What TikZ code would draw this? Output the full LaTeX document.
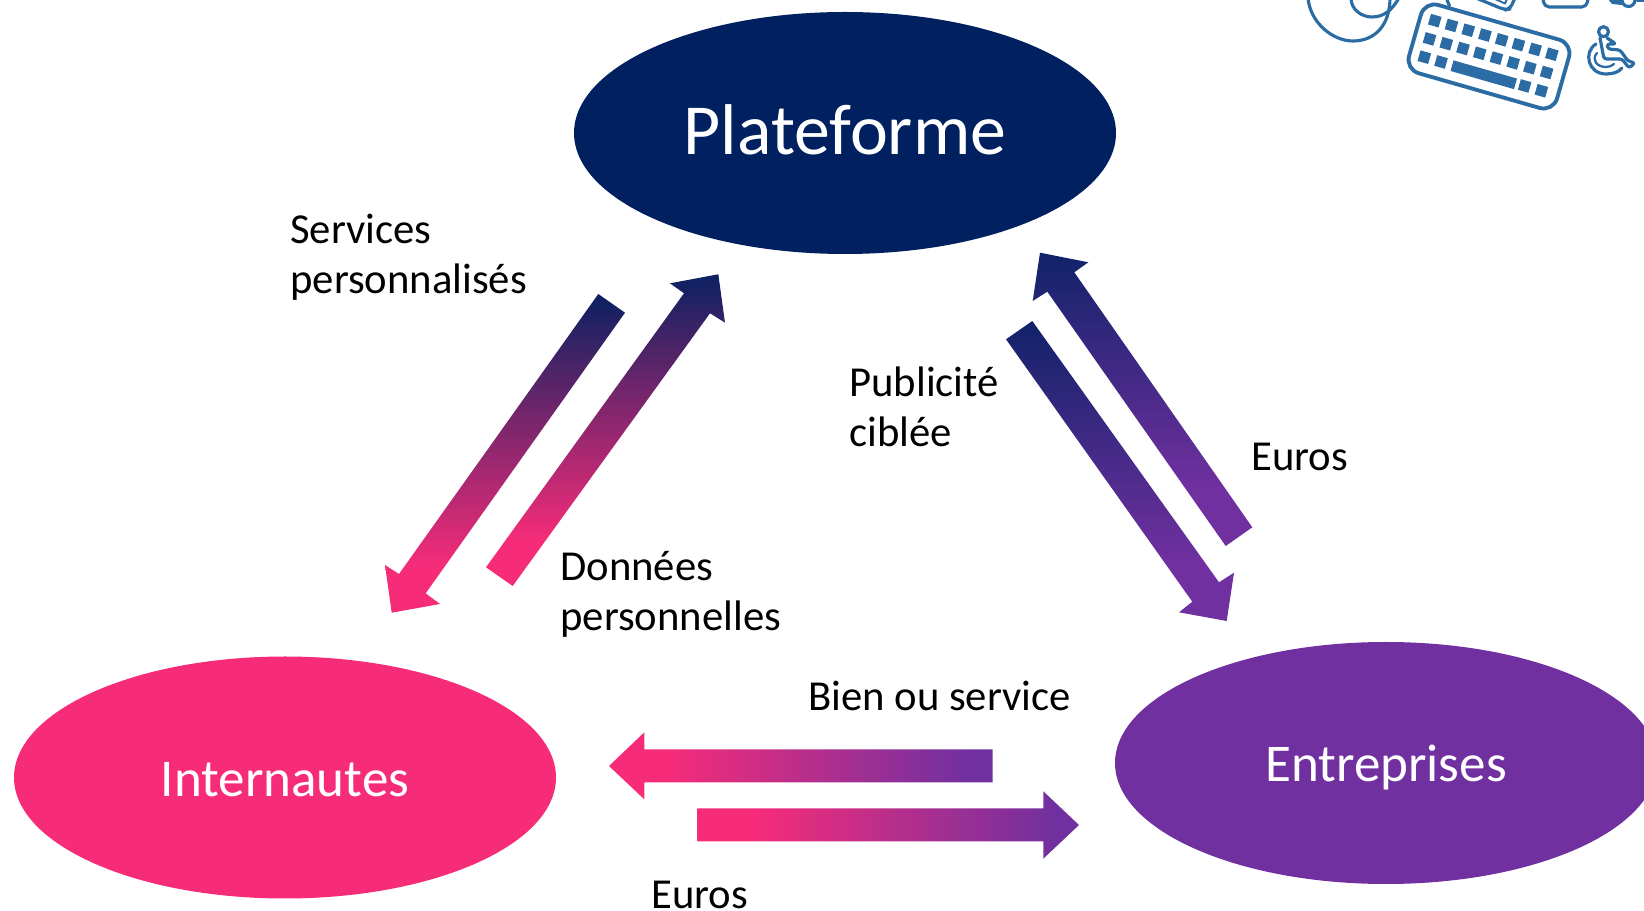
\documentclass[tikz,border=0pt]{standalone}
\usepackage{fontspec}
\setmainfont{Carlito}
\definecolor{navyc}{HTML}{002060}
\definecolor{pinkc}{HTML}{F72C79}
\definecolor{purplec}{HTML}{7030A0}
\definecolor{iconc}{HTML}{2A6CA3}
\pgfdeclareverticalshading{navypink}{100bp}{color(0bp)=(pinkc); color(32bp)=(pinkc); color(77bp)=(navyc); color(100bp)=(navyc)}
\pgfdeclareverticalshading{navypurple}{100bp}{color(0bp)=(purplec); color(35bp)=(purplec); color(82bp)=(navyc); color(100bp)=(navyc)}
\pgfdeclarehorizontalshading{pinkpurple}{100bp}{color(0bp)=(pinkc); color(32bp)=(pinkc); color(72bp)=(purplec); color(100bp)=(purplec)}
\usetikzlibrary{shapes.geometric}
\newcommand{\pxu}{*0.02cm}
\tikzset{
  actor/.style={ellipse, minimum width=542\pxu, minimum height=242\pxu, inner sep=0pt, text=white, text depth=0pt},
  lbl/.style={anchor=base west, align=left, font=\fontsize{24.3}{29}\selectfont, inner sep=0pt},
  icon/.style={draw=iconc, line width=1.8pt, line join=round, line cap=round},
  key/.style={fill=iconc}
}
\begin{document}
\begin{tikzpicture}[x=0.02cm,y=-0.02cm]
\useasboundingbox (0,0) rectangle (1644,911);
\clip (0,0) rectangle (1644,911);

% the three actors
\node [actor, fill=navyc, text height=24pt, font=\fontsize{40.9}{44}\selectfont] (plateforme) at (845,133) {Plateforme};
\node [actor, fill=pinkc, text height=21.7pt, font=\fontsize{30.2}{34}\selectfont] (internautes) at (285,777.5) {Internautes};
\node [actor, fill=purplec, text height=21pt, font=\fontsize{30.2}{34}\selectfont] (entreprises) at (1386,763) {Entreprises};

% arrows between plateforme and internautes
\shade [shading=navypink] (598.3,294) -- (625,312.7) -- (425.7,593.3) -- (440,604) -- (391.7,612.7) -- (385,565) -- (399,574) -- cycle;
\shade [shading=navypink] (486,567.3) -- (512.7,586) -- (710,313.3) -- (725,322.7) -- (718.3,274.3) -- (670,283.3) -- (684,293.3) -- cycle;

% arrows between plateforme and entreprises
\shade [shading=navypurple] (1252.3,527.3) -- (1225.7,546) -- (1047.3,291.7) -- (1032.7,301) -- (1040,252.7) -- (1088.3,262.3) -- (1074.3,272.3) -- cycle;
\shade [shading=navypurple] (1006,339.3) -- (1032.3,321) -- (1219,582.3) -- (1234,572.7) -- (1226.7,621) -- (1179,612.3) -- (1192.3,601.7) -- cycle;

% arrows between internautes and entreprises
\shade [shading=pinkpurple] (992.7,749.3) -- (644.3,749.3) -- (644.3,732.3) -- (609,766) -- (644.3,799.3) -- (644.3,782.3) -- (992.7,782.3) -- cycle;
\shade [shading=pinkpurple] (697.3,808.3) -- (1043.3,808.3) -- (1043.3,791.3) -- (1079,825) -- (1043.3,858.7) -- (1043.3,841.3) -- (697.3,841.3) -- cycle;

% labels
\node [lbl] (services) at (290,294) {Services\\personnalisés};
\node [lbl] (donnees) at (560,631) {Données\\personnelles};
\node [lbl] (publicite) at (849,447) {Publicité\\ciblée};
\node [lbl] (eurosa) at (1251,470.5) {Euros};
\node [lbl] (bien) at (808,711) {Bien ou service};
\node [lbl] (eurosb) at (651,908.5) {Euros};

% keyboard
\begin{scope}[shift={(1489,56.5)}, rotate=-16]
\draw [icon, line width=2.2pt, rounded corners=8] (-77,-35.5) rectangle (77,35.5);
\foreach \x in {0,...,7} \fill [key] (-62+\x*17.4-5.5,-25) rectangle +(11,11);
\foreach \x in {0,...,7} \fill [key] (-62+\x*17.4-5.5,-6) rectangle +(11,11);
\foreach \x in {0,1,6,7} \fill [key] (-62+\x*17.4-5.5,13) rectangle +(11,11);
\fill [key] (-33,13.5) rectangle (33,24.5);
\end{scope}
\draw [icon] (1447,0) -- (1449.5,6);

% cut-off icons along the top edge
\draw [icon] (1308,-2) .. controls (1310,22) and (1332,41) .. (1353,41) .. controls (1375,41) and (1390,25) .. (1390,-2);
\draw [icon] (1351,-2) .. controls (1351,10) and (1362,17) .. (1372,17) .. controls (1384,17) and (1392,10) .. (1399,-2);
\draw [icon, rounded corners=3] (1476,-2) -- (1505,10) -- (1510,9) -- (1515,-2);
\draw [icon, line width=1.1pt] (1495,-1) -- (1505,3.5) -- (1507,-1);
\draw [icon, rounded corners=3] (1543,-2) -- (1544,7) -- (1587,7) -- (1588,-2);
\fill [key] (1560,0) arc (180:0:8.5 and -3) -- cycle;
\fill [key] (1608,-1) -- (1612,4) -- (1622,5) -- (1622,-1) -- cycle;
\draw [icon] (1628.5,0) circle (6.5);
\fill [key] (1635,-1) -- (1637,2) -- (1644,2) -- (1644,-1) -- cycle;

% wheelchair
\draw [icon] (1603.5,31.7) circle (5);
\draw [icon] (1596,44) .. controls (1583,52) and (1588,74) .. (1606,74) .. controls (1613,74) and (1619,72) .. (1622,68);
\draw [icon, line width=1.3pt] (1597,53) .. controls (1591,60) and (1597,67) .. (1606,67) .. controls (1609,67) and (1612,66) .. (1614,64);
\draw [icon, rounded corners=1.5] (1600,38) -- (1604,59) -- (1622,59) -- (1629,68) -- (1635,63) -- (1628,61) -- (1620,50) -- (1608,49) -- (1607,44) -- (1616,44) -- (1607,38);

\end{tikzpicture}
\end{document}
